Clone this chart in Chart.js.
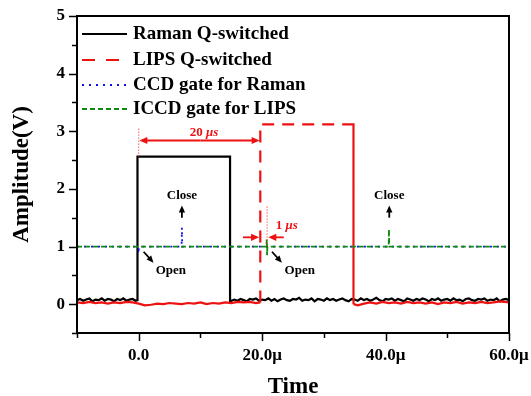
<!DOCTYPE html>
<html>
<head>
<meta charset="utf-8">
<script src="https://cdn.jsdelivr.net/npm/chart.js@4.4.1/dist/chart.umd.min.js"></script>
<style>
  html, body { margin: 0; padding: 0; background: #fff; }
  #wrap { width: 531px; height: 396px; }
</style>
</head>
<body>
<div id="wrap"><canvas id="chart"></canvas></div>
<script>
const seriesNames = ["Raman Q-switched", "LIPS Q-switched", "CCD gate for Raman", "ICCD gate for LIPS"];

// [time (µs), amplitude (V)]
const ramanPoints = [
  [-10, 0.07], [-9.5, 0.09], [-9, 0.06], [-8.5, 0.08], [-8, 0.1], [-7.5, 0.05], [-7, 0.08], [-6.5, 0.07],
  [-6, 0.1], [-5.5, 0.06], [-5, 0.09], [-4.5, 0.08], [-4, 0.05], [-3.5, 0.09], [-3, 0.07], [-2.5, 0.1],
  [-2, 0.06], [-1.5, 0.08], [-1, 0.09], [-0.5, 0.06], [-0.2, 0.07], [-0.2, 2.56], [14.8, 2.56], [14.8, 0.05],
  [15.5, 0.08], [16, 0.06], [16.5, 0.09], [17, 0.07], [17.5, 0.05], [18, 0.09], [18.5, 0.08], [19, 0.1],
  [19.5, 0.06], [20, 0.08], [20.5, 0.07], [21, 0.1], [21.5, 0.06], [22, 0.09], [22.5, 0.05], [23, 0.08],
  [23.5, 0.1], [24, 0.07], [24.5, 0.06], [25, 0.09], [25.5, 0.08], [26, 0.11], [26.5, 0.06], [27, 0.08],
  [27.5, 0.07], [28, 0.1], [28.5, 0.05], [29, 0.09], [29.5, 0.08], [30, 0.06], [30.5, 0.1], [31, 0.07],
  [31.5, 0.09], [32, 0.06], [32.5, 0.08], [33, 0.1], [33.5, 0.07], [34, 0.05], [34.5, 0.09], [35, 0.08],
  [35.5, 0.06], [36, 0.1], [36.5, 0.07], [37, 0.09], [37.5, 0.06], [38, 0.08], [38.5, 0.11], [39, 0.07],
  [39.5, 0.05], [40, 0.09], [40.5, 0.08], [41, 0.1], [41.5, 0.06], [42, 0.09], [42.5, 0.07], [43, 0.05],
  [43.5, 0.1], [44, 0.08], [44.5, 0.06], [45, 0.09], [45.5, 0.07], [46, 0.1], [46.5, 0.08], [47, 0.05],
  [47.5, 0.09], [48, 0.07], [48.5, 0.1], [49, 0.06], [49.5, 0.08], [50, 0.09], [50.5, 0.06], [51, 0.1],
  [51.5, 0.07], [52, 0.08], [52.5, 0.05], [53, 0.09], [53.5, 0.1], [54, 0.07], [54.5, 0.06], [55, 0.09],
  [55.5, 0.08], [56, 0.1], [56.5, 0.06], [57, 0.08], [57.5, 0.07], [58, 0.1], [58.5, 0.05], [59, 0.08],
  [59.5, 0.09], [60, 0.07]
];
const lipsPoints = [
  [-10, 0.03], [-9, 0.02], [-8, 0.04], [-7, 0.02], [-6, 0.03], [-5, 0.01], [-4, 0.03], [-3, 0.02],
  [-2, 0.04], [-1, 0.03], [0, 0.01], [1, -0.02], [2, -0.01], [3, 0.01], [4, 0.0], [5, 0.02],
  [6, 0.01], [7, 0.0], [8, 0.02], [9, 0.01], [10, 0.03], [11, 0.0], [12, 0.02], [13, 0.01],
  [14, 0.03], [15, 0.02], [16, 0.04], [17, 0.03], [18, 0.04], [19, 0.02], [19.7, 0.03],
  [19.7, 3.12], [34.8, 3.12], [34.8, 0.0],
  [35.5, -0.02], [36.5, 0.01], [37.5, 0.03], [38.5, 0.01], [39.5, 0.04], [40.5, 0.02], [41.5, 0.03],
  [42.5, 0.01], [43.5, 0.04], [44.5, 0.02], [45.5, 0.03], [46.5, 0.01], [47.5, 0.03], [48.5, 0.0],
  [49.5, 0.03], [50.5, 0.02], [51.5, 0.04], [52.5, 0.01], [53.5, 0.03], [54.5, 0.02], [55.5, 0.04],
  [56.5, 0.02], [57.5, 0.03], [58.5, 0.05], [60, 0.03]
];
const ccdPoints = [
  [-10, 1], [-0.1, 1], [0, 0.95], [0.1, 1], [6.95, 1], [7, 1.33], [7.05, 1], [60, 1]
];
const iccdPoints = [
  [-10, 1], [20.7, 1], [20.75, 1.12], [20.8, 0.85], [20.85, 1], [40.5, 1], [40.55, 1.3], [40.6, 1], [60, 1]
];

const xTicksMajor = [0, 20, 40, 60];
const yTicksMajor = [0, 1, 2, 3, 4, 5];

const serif = "'Liberation Serif', 'Times New Roman', serif";
const red = "#ee1111";
const blue = "#1010ee";
const green = "#118811";

const toXY = pts => pts.map(p => ({ x: p[0], y: p[1] }));

// LIPS pulse is dashed, its noisy baseline reads as a solid trace
const inPulse = c => c.p0.parsed.x >= 19.7 && c.p1.parsed.x <= 34.8 && (c.p0.parsed.y > 1 || c.p1.parsed.y > 1);

const styles = [
  { color: "#000", dash: [], width: 2.2 },
  { color: red, dash: [12, 8], width: 2.2 },
  { color: blue, dash: [2, 5], width: 1.8 },
  { color: green, dash: [5, 3], width: 1.8 }
];

function arrow(ctx, x1, y1, x2, y2, size) {
  const a = Math.atan2(y2 - y1, x2 - x1);
  ctx.beginPath();
  ctx.moveTo(x1, y1);
  ctx.lineTo(x2 - Math.cos(a) * size * 0.6, y2 - Math.sin(a) * size * 0.6);
  ctx.stroke();
  ctx.beginPath();
  ctx.moveTo(x2, y2);
  ctx.lineTo(x2 - size * Math.cos(a) + size * 0.45 * Math.sin(a), y2 - size * Math.sin(a) - size * 0.45 * Math.cos(a));
  ctx.lineTo(x2 - size * Math.cos(a) - size * 0.45 * Math.sin(a), y2 - size * Math.sin(a) + size * 0.45 * Math.cos(a));
  ctx.closePath();
  ctx.fill();
}

function muText(ctx, num, cx, cy, size) {
  ctx.font = "bold " + size + "px " + serif;
  const w1 = ctx.measureText(num + " ").width;
  ctx.font = "italic bold " + size + "px " + serif;
  const w2 = ctx.measureText("μs").width;
  let x = cx - (w1 + w2) / 2;
  ctx.textAlign = "left";
  ctx.font = "bold " + size + "px " + serif;
  ctx.fillText(num + " ", x, cy);
  ctx.font = "italic bold " + size + "px " + serif;
  ctx.fillText("μs", x + w1, cy);
}

const decorations = {
  id: "decorations",
  afterDraw(chart) {
    const { ctx, chartArea: a, scales: { x, y } } = chart;
    const px = v => x.getPixelForValue(v);
    const py = v => y.getPixelForValue(v);
    ctx.save();

    // frame and tick marks
    ctx.strokeStyle = "#000";
    ctx.lineWidth = 2;
    ctx.setLineDash([]);
    ctx.strokeRect(a.left, a.top, a.right - a.left, a.bottom - a.top);
    ctx.lineWidth = 1.5;
    x.ticks.forEach(t => {
      const p = Math.round(px(t.value)) + 0.5;
      const len = xTicksMajor.includes(t.value) ? 8 : 5;
      ctx.beginPath(); ctx.moveTo(p, a.bottom); ctx.lineTo(p, a.bottom + len); ctx.stroke();
    });
    y.ticks.forEach(t => {
      const p = Math.round(py(t.value)) + 0.5;
      const len = yTicksMajor.includes(t.value) ? 8 : 5;
      ctx.beginPath(); ctx.moveTo(a.left, p); ctx.lineTo(a.left - len, p); ctx.stroke();
    });

    // legend
    const rows = [18, 44, 69, 93];
    ctx.textBaseline = "middle";
    ctx.textAlign = "left";
    ctx.font = "bold 19px " + serif;
    styles.forEach((s, i) => {
      const ly = a.top + rows[i];
      ctx.strokeStyle = s.color;
      ctx.lineWidth = s.width;
      ctx.setLineDash(i === 1 ? [13, 11] : s.dash);
      ctx.beginPath(); ctx.moveTo(a.left + 5, ly); ctx.lineTo(a.left + 50, ly); ctx.stroke();
      ctx.fillStyle = "#000";
      ctx.fillText(seriesNames[i], a.left + 56, ly);
    });
    ctx.setLineDash([]);

    // 20 µs delay marker
    ctx.strokeStyle = red;
    ctx.fillStyle = red;
    ctx.lineWidth = 1;
    ctx.setLineDash([1, 2]);
    ctx.beginPath(); ctx.moveTo(px(0), py(2.56)); ctx.lineTo(px(0), py(3.07)); ctx.stroke();
    ctx.beginPath(); ctx.moveTo(px(20.8), py(1.0)); ctx.lineTo(px(20.8), py(1.72)); ctx.stroke();
    ctx.setLineDash([]);
    ctx.lineWidth = 1.8;
    const ya = py(2.84);
    arrow(ctx, px(10), ya, px(19.6), ya, 8);
    arrow(ctx, px(10), ya, px(0.1), ya, 8);
    muText(ctx, "20", px(10.6), py(2.98), 13);

    // 1 µs marker
    const yb = py(1.16);
    arrow(ctx, px(16.9), yb, px(19.5), yb, 8);
    arrow(ctx, px(23.5), yb, px(21.0), yb, 8);
    muText(ctx, "1", px(24.0), py(1.37), 13);

    // Close / Open labels
    ctx.strokeStyle = "#000";
    ctx.fillStyle = "#000";
    ctx.lineWidth = 1.8;
    ctx.textAlign = "center";
    ctx.font = "bold 13px " + serif;
    [7, 40.6].forEach(t => {
      ctx.fillText("Close", px(t), py(1.88));
      arrow(ctx, px(t), py(1.5), px(t), py(1.71), 7);
    });
    [[0.8, 5.2], [21.6, 26.1]].forEach(([t, tx]) => {
      arrow(ctx, px(t), py(0.91), px(t + 1.6), py(0.72), 7);
      ctx.textAlign = "center";
      ctx.fillText("Open", px(tx), py(0.59));
    });

    ctx.restore();
  }
};

const allSeries = [ramanPoints, lipsPoints, ccdPoints, iccdPoints];
const drawOrder = [3, 2, 1, 0];

function fixBox(s, size) {
  if (s.isHorizontal()) s.height = size; else s.width = size;
  s.paddingLeft = 0; s.paddingRight = 0; s.paddingTop = 0; s.paddingBottom = 0;
}

new Chart(document.getElementById("chart"), {
  type: "line",
  data: {
    datasets: allSeries.map((pts, i) => ({
      label: seriesNames[i],
      data: toXY(pts),
      borderColor: styles[i].color,
      borderWidth: styles[i].width,
      borderDash: i === 1 ? [] : styles[i].dash,
      segment: i === 1 ? { borderDash: c => (inPulse(c) ? styles[1].dash : undefined) } : undefined,
      pointRadius: 0,
      tension: 0,
      fill: false,
      order: drawOrder[i]
    }))
  },
  options: {
    responsive: true,
    maintainAspectRatio: false,
    animation: false,
    layout: { padding: { top: 16, right: 22, left: 0, bottom: 0 } },
    plugins: { legend: { display: false }, tooltip: { enabled: false } },
    scales: {
      x: {
        type: "linear",
        min: -10,
        max: 60,
        afterFit: s => fixBox(s, 63),
        grid: { display: false, drawTicks: false },
        border: { display: false },
        ticks: {
          stepSize: 10,
          padding: 12,
          maxRotation: 0,
          autoSkip: false,
          color: "#000",
          font: { family: serif, size: 17, weight: "bold" },
          callback: v => (xTicksMajor.includes(v) ? (v === 0 ? "0.0" : v.toFixed(1) + "μ") : "")
        },
        title: {
          display: true,
          text: "Time",
          color: "#000",
          padding: { top: 0, bottom: -5 },
          font: { family: serif, size: 23, weight: "bold" }
        }
      },
      y: {
        min: -0.5,
        max: 5,
        afterFit: s => fixBox(s, 77),
        grid: { display: false, drawTicks: false },
        border: { display: false },
        ticks: {
          stepSize: 0.5,
          padding: 12,
          color: "#000",
          font: { family: serif, size: 17, weight: "bold" },
          callback: v => (yTicksMajor.includes(v) ? String(v) : "")
        },
        title: {
          display: true,
          text: "Amplitude(V)",
          color: "#000",
          padding: { top: 8, bottom: 0 },
          font: { family: serif, size: 23, weight: "bold" }
        }
      }
    }
  },
  plugins: [decorations]
});
</script>
</body>
</html>
